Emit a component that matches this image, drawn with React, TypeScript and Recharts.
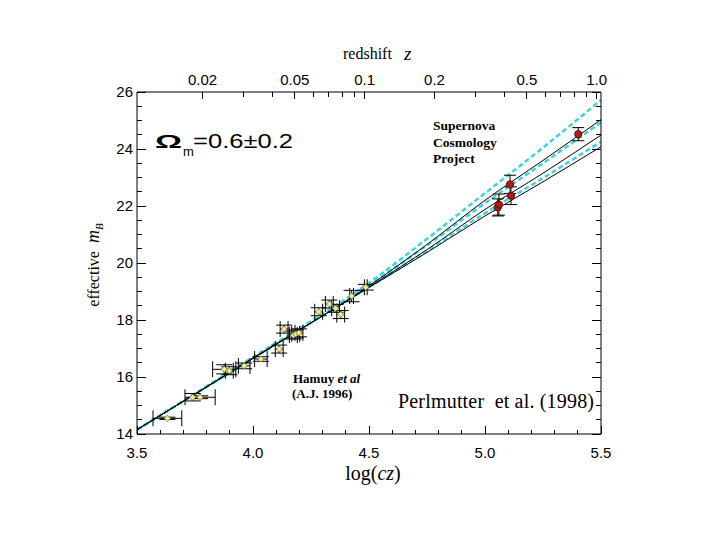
import React from 'react';
import { ComposedChart, Line, Scatter, ErrorBar, XAxis, YAxis } from 'recharts';

// speed of light used for the redshift scale on top (km/s)
const C_KMS = 3.03e5;

const logCzTicks = [3.5, 3.6, 3.7, 3.8, 3.9, 4.0, 4.1, 4.2, 4.3, 4.4, 4.5, 4.6, 4.7, 4.8, 4.9, 5.0, 5.1, 5.2, 5.3, 5.4, 5.5];
const logCzLabels = ['3.5', '4.0', '4.5', '5.0', '5.5'];
const magTicks = [14, 14.5, 15, 15.5, 16, 16.5, 17, 17.5, 18, 18.5, 19, 19.5, 20, 20.5, 21, 21.5, 22, 22.5, 23, 23.5, 24, 24.5, 25, 25.5, 26];
const magLabels = ['14', '16', '18', '20', '22', '24', '26'];
const zMajor = [0.02, 0.05, 0.1, 0.2, 0.5, 1.0];
const zMajorLabels = ['0.02', '0.05', '0.1', '0.2', '0.5', '1.0'];
const zMinor = [0.03, 0.04, 0.06, 0.07, 0.08, 0.09, 0.3, 0.4, 0.6, 0.7, 0.8, 0.9];

// Calan/Tololo (Hamuy et al 1996) low-redshift supernovae
const hamuyLogCz = [3.631, 3.74, 3.772, 3.876, 3.898, 3.962, 4.034, 4.113, 4.134, 4.174, 4.184, 4.198, 4.283, 4.329, 4.356, 4.378, 4.425, 4.486];
const hamuyMag = [14.55, 15.29, 15.29, 16.27, 16.22, 16.39, 16.63, 16.98, 17.68, 17.47, 17.51, 17.55, 18.29, 18.56, 18.41, 18.19, 18.84, 19.15];
const hamuyErrLogCz = [0.062, 0, 0.065, 0.05, 0.017, 0.025, 0.027, 0.017, 0.017, 0.017, 0.017, 0.017, 0.017, 0.017, 0.017, 0.017, 0.008, 0.006];
const hamuyErrMag = [0.04, 0.13, 0.05, 0.16, 0.14, 0.1, 0.08, 0.14, 0.14, 0.14, 0.14, 0.14, 0.14, 0.14, 0.14, 0.14, 0.2, 0.1];

// Supernova Cosmology Project high-redshift supernovae
const scpLogCz = [5.055, 5.06, 5.108, 5.112, 5.402];
const scpMag = [21.95, 22.05, 22.76, 22.36, 24.52];
const scpErrMag = [0.3, 0.37, 0.32, 0.31, 0.23];

// model curves
const curveLogCz = [3.5, 4.0, 4.5, 4.75, 5.0, 5.25, 5.5];
const flatOm0 = [14.15, 16.7, 19.3, 20.85, 22.45, 24.05, 25.72];
const flatOm05 = [14.15, 16.67, 19.22, 20.62, 22.1, 23.5, 24.93];
const flatOm1 = [14.15, 16.65, 19.16, 20.42, 21.75, 22.98, 24.26];
const openOm0 = [14.15, 16.67, 19.2, 20.65, 22.2, 23.6, 25.03];
const openOm1 = [14.15, 16.65, 19.16, 20.47, 21.88, 23.15, 24.49];
const openOm2 = [14.15, 16.65, 19.14, 20.37, 21.65, 22.85, 24.08];

const CYAN = '#3fd3da';
const SANS = '"Liberation Sans", Arial, sans-serif';
const SERIF = '"Liberation Serif", "Times New Roman", serif';

const toCurve = (ys: number[]) => curveLogCz.map((x, i) => ({ x, y: ys[i] }));

const hamuyData = hamuyLogCz.map((x, i) => ({ x, y: hamuyMag[i], ex: hamuyErrLogCz[i], ey: hamuyErrMag[i] }));
const scpData = scpLogCz.map((x, i) => ({ x, y: scpMag[i], ey: scpErrMag[i] }));

const topTickPos = [...zMajor, ...zMinor].map((z) => Math.log10(C_KMS * z));
const topLabelAt = (v: number) => {
	const i = zMajor.findIndex((z) => Math.abs(Math.log10(C_KMS * z) - v) < 1e-6);
	return i >= 0 ? zMajorLabels[i] : null;
};

function BottomTick(props: any) {
	const { x, y, payload } = props;
	const label = logCzLabels.find((l) => Math.abs(parseFloat(l) - payload.value) < 1e-6);
	return (
		<g>
			<line x1={x} x2={x} y1={y} y2={y - (label ? 8 : 4)} stroke='#000' shapeRendering='crispEdges' />
			{label && (
				<text x={x} y={y + 24} textAnchor='middle' fontFamily={SANS} fontSize={15} fill='#000'>
					{label}
				</text>
			)}
		</g>
	);
}

function TopTick(props: any) {
	const { x, y, payload } = props;
	const label = topLabelAt(payload.value);
	return (
		<g>
			<line x1={x} x2={x} y1={y} y2={y + (label ? 7 : 5)} stroke='#000' shapeRendering='crispEdges' />
			{label && (
				<text x={x} y={y - 7} textAnchor='middle' fontFamily={SANS} fontSize={15} fill='#000'>
					{label}
				</text>
			)}
		</g>
	);
}

function LeftTick(props: any) {
	const { x, y, payload } = props;
	const label = magLabels.find((l) => parseFloat(l) === payload.value);
	return (
		<g>
			<line x1={x} x2={x + (label ? 9 : 5)} y1={y} y2={y} stroke='#000' shapeRendering='crispEdges' />
			{label && (
				<text x={x - 4} y={y + 5} textAnchor='end' fontFamily={SANS} fontSize={15} fill='#000'>
					{label}
				</text>
			)}
		</g>
	);
}

function RightTick(props: any) {
	const { x, y, payload } = props;
	const major = magLabels.some((l) => parseFloat(l) === payload.value);
	return <line x1={x} x2={x - (major ? 9 : 5)} y1={y} y2={y} stroke='#000' shapeRendering='crispEdges' />;
}

const Diamond = (props: any) => {
	const { cx, cy } = props;
	const r = 3.2;
	return (
		<polygon
			points={`${cx},${cy - r} ${cx + r},${cy} ${cx},${cy + r} ${cx - r},${cy}`}
			fill='#f3ec86'
			stroke='#6b6a40'
			strokeWidth={0.8}
		/>
	);
};

const RedDot = (props: any) => <circle cx={props.cx} cy={props.cy} r={3.6} fill='#b3191c' stroke='#5a0c0c' strokeWidth={1} />;

export default function App() {
	return (
		<div style={{ position: 'absolute', left: 0, top: 0, width: 720, height: 540, background: '#fff' }}>
			<ComposedChart width={720} height={540} margin={{ top: 62, right: 109, bottom: 76, left: 97 }}>
				<XAxis
					xAxisId='b'
					type='number'
					dataKey='x'
					domain={[3.5, 5.5]}
					allowDataOverflow
					ticks={logCzTicks}
					interval={0}
					tick={<BottomTick />}
					tickLine={false}
					tickSize={0}
					tickMargin={0}
					height={30}
					stroke='#000'
				/>
				<XAxis
					xAxisId='t'
					orientation='top'
					type='number'
					dataKey='x'
					domain={[3.5, 5.5]}
					allowDataOverflow
					ticks={topTickPos}
					interval={0}
					tick={<TopTick />}
					tickLine={false}
					tickSize={0}
					tickMargin={0}
					height={30}
					stroke='#000'
				/>
				<YAxis
					yAxisId='l'
					type='number'
					dataKey='y'
					domain={[14, 26]}
					allowDataOverflow
					ticks={magTicks}
					interval={0}
					tick={<LeftTick />}
					tickLine={false}
					tickSize={0}
					tickMargin={0}
					width={40}
					stroke='#000'
				/>
				<YAxis
					yAxisId='r'
					orientation='right'
					type='number'
					dataKey='y'
					domain={[14, 26]}
					allowDataOverflow
					ticks={magTicks}
					interval={0}
					tick={<RightTick />}
					tickLine={false}
					tickSize={0}
					tickMargin={0}
					width={10}
					stroke='#000'
				/>

				{[flatOm0, flatOm05, flatOm1].map((ys, i) => (
					<Line
						key={`flat-${i}`}
						xAxisId='b'
						yAxisId='l'
						data={toCurve(ys)}
						dataKey='y'
						type='monotone'
						stroke={CYAN}
						strokeWidth={2.5}
						strokeDasharray='5 3'
						dot={false}
						isAnimationActive={false}
					/>
				))}
				{[openOm0, openOm1, openOm2].map((ys, i) => (
					<Line
						key={`open-${i}`}
						xAxisId='b'
						yAxisId='l'
						data={toCurve(ys)}
						dataKey='y'
						type='monotone'
						stroke='#000'
						strokeWidth={1}
						dot={false}
						isAnimationActive={false}
					/>
				))}

				<Scatter xAxisId='b' yAxisId='l' data={hamuyData} shape={Diamond} isAnimationActive={false}>
					<ErrorBar dataKey='ex' direction='x' width={8} stroke='#000' strokeWidth={1} />
					<ErrorBar dataKey='ey' direction='y' width={8} stroke='#000' strokeWidth={1} />
				</Scatter>
				<Scatter xAxisId='b' yAxisId='l' data={scpData} shape={RedDot} isAnimationActive={false}>
					<ErrorBar dataKey='ey' direction='y' width={6} stroke='#000' strokeWidth={1} />
				</Scatter>
			</ComposedChart>

			<svg width={720} height={540} style={{ position: 'absolute', left: 0, top: 0, pointerEvents: 'none' }}>
				<text x={343} y={59} fontFamily={SERIF} fontSize={16} fill='#000'>
					redshift
				</text>
				<text x={404} y={60} fontFamily={SERIF} fontSize={19} fontStyle='italic' fill='#000'>
					z
				</text>

				<text transform='translate(99,265) rotate(-90)' textAnchor='middle' fontFamily={SERIF} fontSize={16} fill='#000' style={{ whiteSpace: 'pre' }}>
					{'effective  '}
					<tspan fontStyle='italic' fontSize={18}>m</tspan>
					<tspan fontStyle='italic' fontSize={11} dy={4}>B</tspan>
				</text>

				<text x={373} y={480} textAnchor='middle' fontFamily={SERIF} fontSize={20} fill='#000'>
					log(<tspan fontStyle='italic'>cz</tspan>)
				</text>

				<text x={155} y={148} fontFamily={SANS} fontSize={19} fontWeight='bold' textLength={27} lengthAdjust='spacingAndGlyphs' fill='#000'>
					Ω
				</text>
				<text x={183} y={156} fontFamily={SANS} fontSize={13} fill='#000'>
					m
				</text>
				<text x={193} y={148} fontFamily={SANS} fontSize={21} textLength={100} lengthAdjust='spacingAndGlyphs' fill='#000'>
					=0.6±0.2
				</text>

				<g fontFamily={SERIF} fontSize={13.5} fontWeight='bold' fill='#000'>
					<text x={433} y={130}>Supernova</text>
					<text x={433} y={146.5}>Cosmology</text>
					<text x={433} y={163}>Project</text>
				</g>

				<g fontFamily={SERIF} fontSize={13} fontWeight='bold' fill='#000'>
					<text x={293} y={383}>
						Hamuy <tspan fontStyle='italic'>et al</tspan>
					</text>
					<text x={292} y={398}>(A.J. 1996)</text>
				</g>

				<text x={398} y={408} fontFamily={SERIF} fontSize={20} fill='#000' textLength={196} lengthAdjust='spacing' style={{ whiteSpace: 'pre' }}>
					{'Perlmutter  et al. (1998)'}
				</text>
			</svg>
		</div>
	);
}
